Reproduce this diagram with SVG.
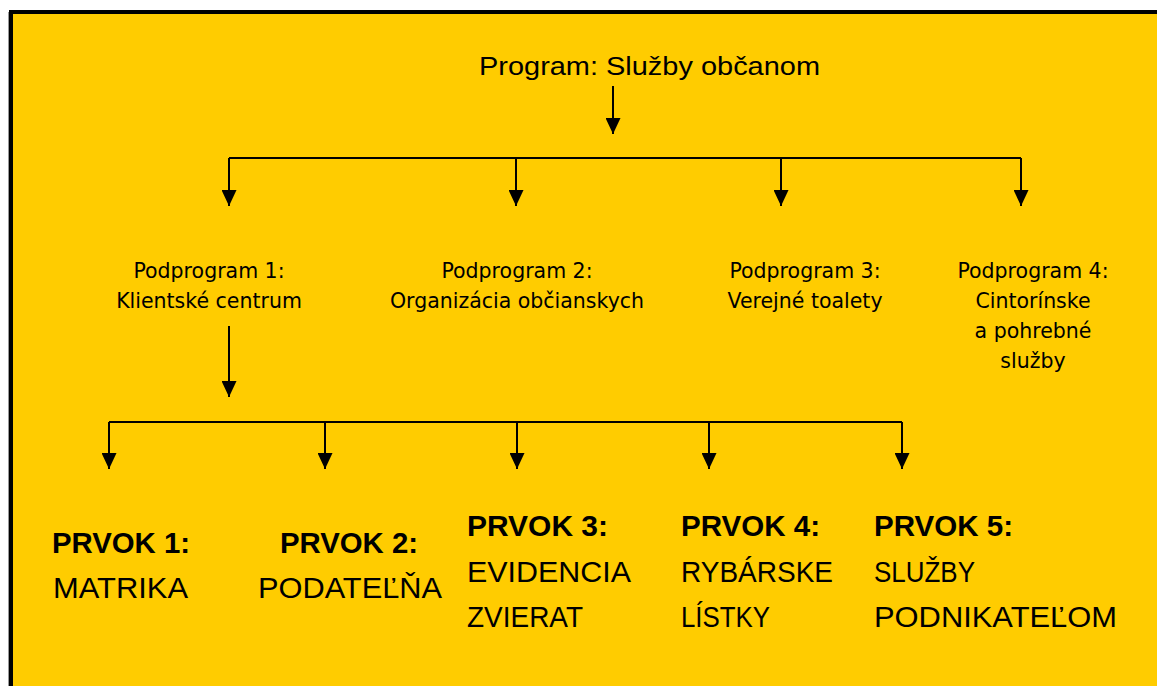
<svg xmlns="http://www.w3.org/2000/svg" width="1157" height="686" viewBox="0 0 1157 686">
<defs>
<marker id="ah" markerUnits="userSpaceOnUse" markerWidth="16" markerHeight="15" viewBox="0 0 16 15" refX="16" refY="7.5" orient="auto">
<path d="M0,0 L16,7.5 L0,15 z" fill="#000"/>
</marker>
<style>
.c{fill:none;stroke:#000;stroke-width:2}
.a{marker-end:url(#ah)}
.t{font-family:"Liberation Sans",Arial,sans-serif;fill:#000}
.p{font-family:"DejaVu Sans",Verdana,sans-serif;font-size:20.5px;fill:#000;text-anchor:middle}
.b{font-family:"Liberation Sans",Arial,sans-serif;font-weight:bold;font-size:29px;fill:#000}
.r{font-family:"Liberation Sans",Arial,sans-serif;font-size:30px;fill:#000}
</style>
</defs>
<rect x="0" y="0" width="1157" height="686" fill="#fff"/>
<rect x="11" y="12" width="1200" height="720" fill="#FFCC00" stroke="#000" stroke-width="4"/>
<line x1="8.5" y1="12" x2="8.5" y2="686" stroke="#999" stroke-width="1"/>

<g id="connectors">
<path class="c a" d="M613,86 L613,134"/>
<path class="c" d="M229,158 L1021,158"/>
<path class="c a" d="M229,158 L229,206"/>
<path class="c a" d="M516,158 L516,206"/>
<path class="c a" d="M781,158 L781,206"/>
<path class="c a" d="M1021,158 L1021,206"/>
<path class="c a" d="M229,326 L229,397"/>
<path class="c" d="M109,422 L902,422"/>
<path class="c a" d="M109,422 L109,469"/>
<path class="c a" d="M325,422 L325,469"/>
<path class="c a" d="M517,422 L517,469"/>
<path class="c a" d="M709,422 L709,469"/>
<path class="c a" d="M902,422 L902,469"/>
</g>

<g id="program">
<text class="t" x="479" y="75" font-size="25" textLength="341" lengthAdjust="spacingAndGlyphs">Program: Služby občanom</text>
</g>

<g id="podprogram1">
<text class="p" x="209" y="278">Podprogram 1:</text>
<text class="p" x="209" y="308">Klientské centrum</text>
</g>
<g id="podprogram2">
<text class="p" x="517" y="278">Podprogram 2:</text>
<text class="p" x="517" y="308">Organizácia občianskych</text>
</g>
<g id="podprogram3">
<text class="p" x="805" y="278">Podprogram 3:</text>
<text class="p" x="805" y="308">Verejné toalety</text>
</g>
<g id="podprogram4">
<text class="p" x="1033" y="278">Podprogram 4:</text>
<text class="p" x="1033" y="308">Cintorínske</text>
<text class="p" x="1033" y="338">a pohrebné</text>
<text class="p" x="1033" y="368">služby</text>
</g>

<g id="prvok1">
<text class="b" x="52" y="553" textLength="138" lengthAdjust="spacingAndGlyphs">PRVOK 1:</text>
<text class="r" x="53" y="598" textLength="135" lengthAdjust="spacingAndGlyphs">MATRIKA</text>
</g>
<g id="prvok2">
<text class="b" x="280" y="553" textLength="138" lengthAdjust="spacingAndGlyphs">PRVOK 2:</text>
<text class="r" x="258" y="598" textLength="184" lengthAdjust="spacingAndGlyphs">PODATEĽŇA</text>
</g>
<g id="prvok3">
<text class="b" x="467" y="536" textLength="141" lengthAdjust="spacingAndGlyphs">PRVOK 3:</text>
<text class="r" x="467" y="582" textLength="164" lengthAdjust="spacingAndGlyphs">EVIDENCIA</text>
<text class="r" x="467" y="627" textLength="116" lengthAdjust="spacingAndGlyphs">ZVIERAT</text>
</g>
<g id="prvok4">
<text class="b" x="681" y="536" textLength="139" lengthAdjust="spacingAndGlyphs">PRVOK 4:</text>
<text class="r" x="681" y="582" textLength="152" lengthAdjust="spacingAndGlyphs">RYBÁRSKE</text>
<text class="r" x="681" y="627" textLength="89" lengthAdjust="spacingAndGlyphs">LÍSTKY</text>
</g>
<g id="prvok5">
<text class="b" x="874" y="536" textLength="139" lengthAdjust="spacingAndGlyphs">PRVOK 5:</text>
<text class="r" x="874" y="582" textLength="101" lengthAdjust="spacingAndGlyphs">SLUŽBY</text>
<text class="r" x="874" y="627" textLength="243" lengthAdjust="spacingAndGlyphs">PODNIKATEĽOM</text>
</g>
</svg>
